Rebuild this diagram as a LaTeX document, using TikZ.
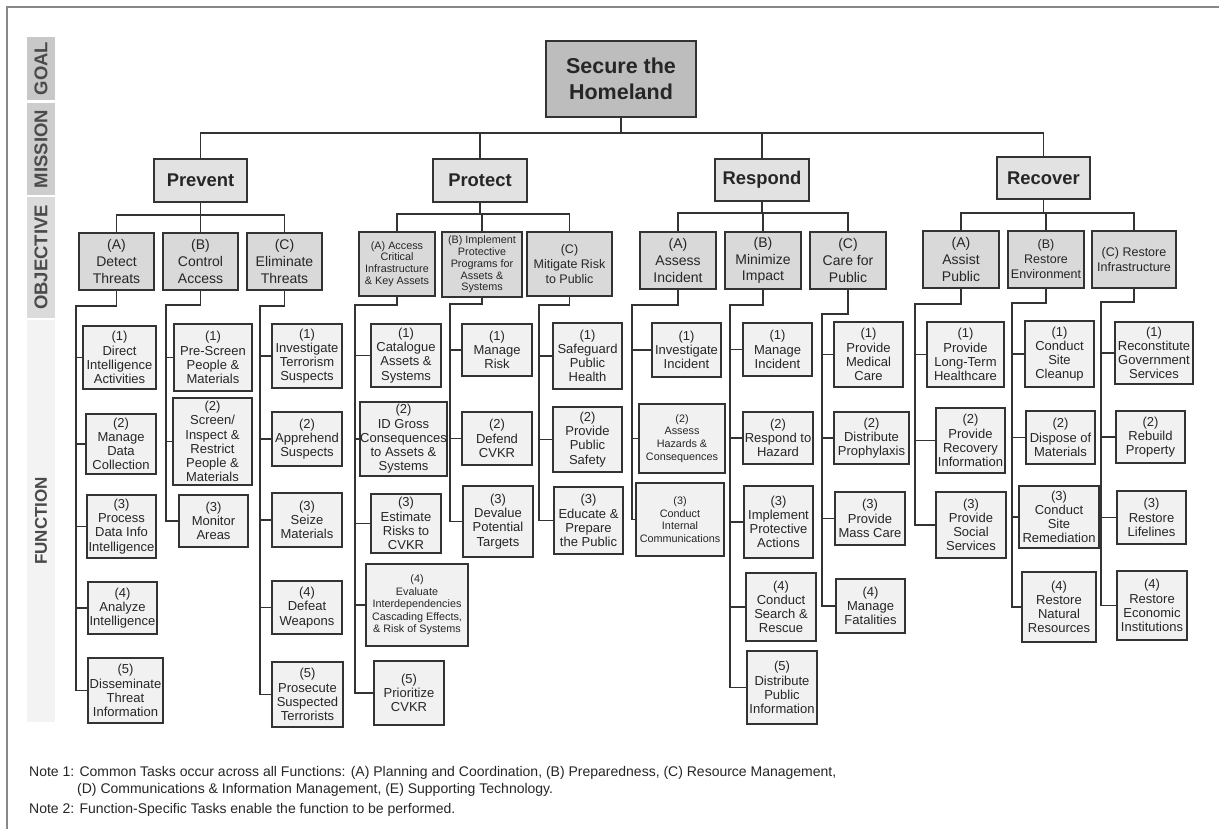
\documentclass[tikz,border=0pt]{standalone}
\usepackage{fontspec}
\setmainfont{Liberation Sans}
\definecolor{bordercol}{HTML}{333333}
\definecolor{txtcol}{HTML}{262626}
\definecolor{goalfill}{HTML}{BDBDBD}
\definecolor{misfill}{HTML}{E2E2E2}
\definecolor{objfill}{HTML}{D9D9D9}
\definecolor{funcfill}{HTML}{F1F1F1}
\definecolor{bandA}{HTML}{C8C8C8}
\definecolor{bandB}{HTML}{CDCDCD}
\definecolor{bandC}{HTML}{DBDBDB}
\definecolor{bandD}{HTML}{F3F3F3}
\definecolor{framecol}{HTML}{888888}
\definecolor{bandtxt}{HTML}{4A4A4A}
\newcommand\bx[7]{\node[#1, minimum width={(#5-#3)*1pt}, minimum height={(#6-#4)*1pt}] (#2) at ({(#3+#5)/2},{(#4+#6)/2}) {#7};}
\tikzset{
  basebox/.style={draw=bordercol, line width=1.4pt, align=center, inner sep=0pt, text=txtcol},
  goalbox/.style={basebox, fill=goalfill, font=\bfseries\fontsize{21.5}{25.7}\selectfont},
  misbox/.style={basebox, fill=misfill, font=\bfseries\fontsize{18.4}{22}\selectfont},
  objbox/.style={basebox, fill=objfill, font=\fontsize{14}{16.6}\selectfont},
  objmid/.style={basebox, fill=objfill, font=\fontsize{12.5}{15}\selectfont},
  objsmall/.style={basebox, fill=objfill, font=\fontsize{10.8}{11.8}\selectfont},
  funcbox/.style={basebox, fill=funcfill, font=\fontsize{13}{14.2}\selectfont},
  funcsmall/.style={basebox, fill=funcfill, font=\fontsize{10.8}{12.6}\selectfont},
  conn/.style={draw=bordercol, line width=1.3pt},
  band/.style={rotate=90, inner sep=0pt, minimum height=28pt, text=bandtxt, font=\bfseries\fontsize{18.5}{20}\selectfont},
  note/.style={anchor=west, inner sep=0pt, text=txtcol, font=\fontsize{14}{16}\selectfont}
}
\begin{document}
\begin{tikzpicture}[x=1pt,y=-1pt]
\useasboundingbox (0,0) rectangle (1219,829);
\fill[white] (0,0) rectangle (1219,829);
\draw[framecol, line width=2pt] (7,829) -- (7,7) -- (1219,7);

% side bands
\node[band, fill=bandA, minimum width=63pt] (lgoal) at (41,68.5) {GOAL};
\node[band, fill=bandB, minimum width=92pt] (lmis) at (41,149) {MISSION};
\node[band, fill=bandC, minimum width=121pt] (lobj) at (41,257.5) {OBJECTIVE};
\node[band, fill=bandD, minimum width=402pt, font=\bfseries\fontsize{17}{20}\selectfont] (lfun) at (41,521) {FUNCTION};

% goal and missions
\bx{goalbox}{goal}{546}{41}{696}{117}{Secure the\\Homeland}
\bx{misbox}{prevent}{154}{159}{247}{202}{Prevent}
\bx{misbox}{protect}{433}{159}{527}{202}{Protect}
\bx{misbox}{respond}{715}{159}{809}{201}{Respond}
\bx{misbox}{recover}{997}{157}{1090}{199}{Recover}

\coordinate (mbus) at (621,133);
\draw[conn] (goal.south) -- (goal.south |- mbus);
\draw[conn] (prevent.north) -- (prevent.north |- mbus) -- (recover.north |- mbus) -- (recover.north);
\draw[conn] (protect.north) -- (protect.north |- mbus);
\draw[conn] (respond.north) -- (respond.north |- mbus);

% objectives
\bx{objbox}{pvA}{79}{233}{154}{290}{(A)\\Detect\\Threats}
\bx{objbox}{pvB}{163}{233}{238}{290}{(B)\\Control\\Access}
\bx{objbox}{pvC}{247}{233}{322}{290}{(C)\\Eliminate\\Threats}
\bx{objsmall}{ptA}{359}{232}{435}{296}{(A) Access\\Critical\\Infrastructure\\\& Key Assets}
\bx{objsmall}{ptB}{442}{232}{522}{297}{(B) Implement\\Protective\\Programs for\\Assets \&\\Systems}
\bx{objmid}{ptC}{527}{232}{612}{296}{(C)\\Mitigate Risk\\to Public}
\bx{objbox}{rsA}{640}{232}{716}{289}{(A)\\Assess\\Incident}
\bx{objbox}{rsB}{725}{232}{801}{289}{(B)\\Minimize\\Impact}
\bx{objbox}{rsC}{810}{232}{886}{289}{(C)\\Care for\\Public}
\bx{objbox}{rcA}{923}{231}{999}{288}{(A)\\Assist\\Public}
\bx{objmid}{rcB}{1008}{231}{1084}{288}{(B)\\Restore\\Environment}
\bx{objmid}{rcC}{1092}{231}{1176}{288}{(C) Restore\\Infrastructure}

\coordinate (pvbus) at (0,215);
\coordinate (ptbus) at (0,214);
\coordinate (rsbus) at (0,213);
\coordinate (rcbus) at (0,213);
\draw[conn] (prevent.south) -- (prevent.south |- pvbus);
\draw[conn] (pvA.north) -- (pvA.north |- pvbus) -- (pvC.north |- pvbus) -- (pvC.north);
\draw[conn] (pvB.north) -- (pvB.north |- pvbus);
\draw[conn] (protect.south) -- (protect.south |- ptbus);
\draw[conn] (ptA.north) -- (ptA.north |- ptbus) -- (ptC.north |- ptbus) -- (ptC.north);
\draw[conn] (ptB.north) -- (ptB.north |- ptbus);
\draw[conn] (respond.south) -- (respond.south |- rsbus);
\draw[conn] (rsA.north) -- (rsA.north |- rsbus) -- (rsC.north |- rsbus) -- (rsC.north);
\draw[conn] (rsB.north) -- (rsB.north |- rsbus);
\draw[conn] (recover.south) -- (recover.south |- rcbus);
\draw[conn] (rcA.north) -- (rcA.north |- rcbus) -- (rcC.north |- rcbus) -- (rcC.north);
\draw[conn] (rcB.north) -- (rcB.north |- rcbus);

% functions - Prevent
\bx{funcbox}{pvA1}{83}{326}{156}{389}{(1)\\Direct\\Intelligence\\Activities}
\bx{funcbox}{pvA2}{86}{414}{156}{474}{(2)\\Manage\\Data\\Collection}
\bx{funcbox}{pvA3}{87}{495}{156}{558}{(3)\\Process\\Data Info\\Intelligence}
\bx{funcbox}{pvA4}{88}{582}{157}{634}{(4)\\Analyze\\Intelligence}
\bx{funcbox}{pvA5}{88}{658}{163}{723}{(5)\\Disseminate\\Threat\\Information}
\bx{funcbox}{pvB1}{174}{324}{252}{391}{(1)\\Pre-Screen\\People \&\\Materials}
\bx{funcbox}{pvB2}{173}{398}{252}{485}{(2)\\Screen/\\Inspect \&\\Restrict\\People \&\\Materials}
\bx{funcbox}{pvB3}{179}{495}{248}{547}{(3)\\Monitor\\Areas}
\bx{funcbox}{pvC1}{272}{324}{342}{388}{(1)\\Investigate\\Terrorism\\Suspects}
\bx{funcbox}{pvC2}{272}{412}{342}{466}{(2)\\Apprehend\\Suspects}
\bx{funcbox}{pvC3}{272}{493}{342}{547}{(3)\\Seize\\Materials}
\bx{funcbox}{pvC4}{272}{581}{342}{634}{(4)\\Defeat\\Weapons}
\bx{funcbox}{pvC5}{272}{662}{343}{727}{(5)\\Prosecute\\Suspected\\Terrorists}

% functions - Protect
\bx{funcbox}{ptA1}{371}{324}{441}{387}{(1)\\Catalogue\\Assets \&\\Systems}
\bx{funcbox}{ptA2}{361}{402}{446}{476}{(2)\\ID Gross\\Consequences\\to Assets \&\\Systems}
\bx{funcbox}{ptA3}{371}{494}{441}{553}{(3)\\Estimate\\Risks to\\CVKR}
\bx{funcsmall}{ptA4}{366}{564}{468}{646}{(4)\\Evaluate\\Interdependencies\\Cascading Effects,\\\& Risk of Systems}
\bx{funcbox}{ptA5}{374}{661}{444}{725}{(5)\\Prioritize\\CVKR}
\bx{funcbox}{ptB1}{462}{324}{532}{376}{(1)\\Manage\\Risk}
\bx{funcbox}{ptB2}{462}{412}{532}{465}{(2)\\Defend\\CVKR}
\bx{funcbox}{ptB3}{463}{486}{533}{557}{(3)\\Devalue\\Potential\\Targets}
\bx{funcbox}{ptC1}{553}{323}{622}{389}{(1)\\Safeguard\\Public\\Health}
\bx{funcbox}{ptC2}{553}{407}{622}{472}{(2)\\Provide\\Public\\Safety}
\bx{funcbox}{ptC3}{554}{487}{623}{554}{(3)\\Educate \&\\Prepare\\the Public}

% functions - Respond
\bx{funcbox}{rsA1}{652}{323}{721}{377}{(1)\\Investigate\\Incident}
\bx{funcsmall}{rsA2}{639}{404}{725}{473}{(2)\\Assess\\Hazards \&\\Consequences}
\bx{funcsmall}{rsA3}{636}{483}{724}{556}{(3)\\Conduct\\Internal\\Communications}
\bx{funcbox}{rsB1}{743}{323}{812}{376}{(1)\\Manage\\Incident}
\bx{funcbox}{rsB2}{743}{412}{813}{464}{(2)\\Respond to\\Hazard}
\bx{funcbox}{rsB3}{744}{486}{813}{558}{(3)\\Implement\\Protective\\Actions}
\bx{funcbox}{rsB4}{746}{573}{816}{641}{(4)\\Conduct\\Search \&\\Rescue}
\bx{funcbox}{rsB5}{747}{651}{817}{724}{(5)\\Distribute\\Public\\Information}
\bx{funcbox}{rsC1}{834}{322}{903}{387}{(1)\\Provide\\Medical\\Care}
\bx{funcbox}{rsC2}{834}{412}{909}{464}{(2)\\Distribute\\Prophylaxis}
\bx{funcbox}{rsC3}{835}{492}{905}{545}{(3)\\Provide\\Mass Care}
\bx{funcbox}{rsC4}{836}{579}{905}{633}{(4)\\Manage\\Fatalities}

% functions - Recover
\bx{funcbox}{rcA1}{927}{322}{1004}{387}{(1)\\Provide\\Long-Term\\Healthcare}
\bx{funcbox}{rcA2}{936}{408}{1005}{473}{(2)\\Provide\\Recovery\\Information}
\bx{funcbox}{rcA3}{936}{492}{1006}{558}{(3)\\Provide\\Social\\Services}
\bx{funcbox}{rcB1}{1025}{321}{1094}{387}{(1)\\Conduct\\Site\\Cleanup}
\bx{funcbox}{rcB2}{1026}{411}{1095}{464}{(2)\\Dispose of\\Materials}
\bx{funcbox}{rcB3}{1019}{486}{1099}{548}{(3)\\Conduct\\Site\\Remediation}
\bx{funcbox}{rcB4}{1022}{572}{1096}{642}{(4)\\Restore\\Natural\\Resources}
\bx{funcbox}{rcC1}{1115}{322}{1193}{384}{(1)\\Reconstitute\\Government\\Services}
\bx{funcbox}{rcC2}{1116}{411}{1185}{463}{(2)\\Rebuild\\Property}
\bx{funcbox}{rcC3}{1117}{491}{1186}{544}{(3)\\Restore\\Lifelines}
\bx{funcbox}{rcC4}{1117}{571}{1187}{640}{(4)\\Restore\\Economic\\Institutions}

% trunks
\coordinate (pvAt) at (76,306);
\coordinate (pvBt) at (166,305);
\coordinate (pvCt) at (260,306);
\coordinate (ptAt) at (355,305);
\coordinate (ptBt) at (450,304);
\coordinate (ptCt) at (539,305);
\coordinate (rsAt) at (632,305);
\coordinate (rsBt) at (730,305);
\coordinate (rsCt) at (822,314);
\coordinate (rcAt) at (915,304);
\coordinate (rcBt) at (1012,303);
\coordinate (rcCt) at (1101,302);

\draw[conn] (pvA.south) |- (pvAt) -- (pvAt |- pvA5.west) -- (pvA5.west);
\foreach \c in {pvA1,pvA2,pvA3,pvA4} \draw[conn] (pvAt |- \c.west) -- (\c.west);
\draw[conn] (pvB.south) |- (pvBt) -- (pvBt |- pvB3.west) -- (pvB3.west);
\foreach \c in {pvB1,pvB2} \draw[conn] (pvBt |- \c.west) -- (\c.west);
\draw[conn] (pvC.south) |- (pvCt) -- (pvCt |- pvC5.west) -- (pvC5.west);
\foreach \c in {pvC1,pvC2,pvC3,pvC4} \draw[conn] (pvCt |- \c.west) -- (\c.west);

\draw[conn] (ptA.south) |- (ptAt) -- (ptAt |- ptA5.west) -- (ptA5.west);
\foreach \c in {ptA1,ptA2,ptA3,ptA4} \draw[conn] (ptAt |- \c.west) -- (\c.west);
\draw[conn] (ptB.south) |- (ptBt) -- (ptBt |- ptB3.west) -- (ptB3.west);
\foreach \c in {ptB1,ptB2} \draw[conn] (ptBt |- \c.west) -- (\c.west);
\draw[conn] (ptC.south) |- (ptCt) -- (ptCt |- ptC3.west) -- (ptC3.west);
\foreach \c in {ptC1,ptC2} \draw[conn] (ptCt |- \c.west) -- (\c.west);

\draw[conn] (rsA.south) |- (rsAt) -- (rsAt |- rsA3.west) -- (rsA3.west);
\foreach \c in {rsA1,rsA2} \draw[conn] (rsAt |- \c.west) -- (\c.west);
\draw[conn] (rsB.south) |- (rsBt) -- (rsBt |- rsB5.west) -- (rsB5.west);
\foreach \c in {rsB1,rsB2,rsB3,rsB4} \draw[conn] (rsBt |- \c.west) -- (\c.west);
\draw[conn] (rsC.south) |- (rsCt) -- (rsCt |- rsC4.west) -- (rsC4.west);
\foreach \c in {rsC1,rsC2,rsC3} \draw[conn] (rsCt |- \c.west) -- (\c.west);

\draw[conn] (rcA.south) |- (rcAt) -- (rcAt |- rcA3.west) -- (rcA3.west);
\foreach \c in {rcA1,rcA2} \draw[conn] (rcAt |- \c.west) -- (\c.west);
\draw[conn] (rcB.south) |- (rcBt) -- (rcBt |- rcB4.west) -- (rcB4.west);
\foreach \c in {rcB1,rcB2,rcB3} \draw[conn] (rcBt |- \c.west) -- (\c.west);
\draw[conn] (rcC.south) |- (rcCt) -- (rcCt |- rcC4.west) -- (rcC4.west);
\foreach \c in {rcC1,rcC2,rcC3} \draw[conn] (rcCt |- \c.west) -- (\c.west);

% notes
\node[note] (n1) at (29,773) {Note 1: Common Tasks occur across all Functions: (A) Planning and Coordination, (B) Preparedness, (C) Resource Management,};
\node[note] (n1b) at (77,790) {(D) Communications \& Information Management, (E) Supporting Technology.};
\node[note] (n2) at (29,810) {Note 2: Function-Specific Tasks enable the function to be performed.};
\end{tikzpicture}
\end{document}
